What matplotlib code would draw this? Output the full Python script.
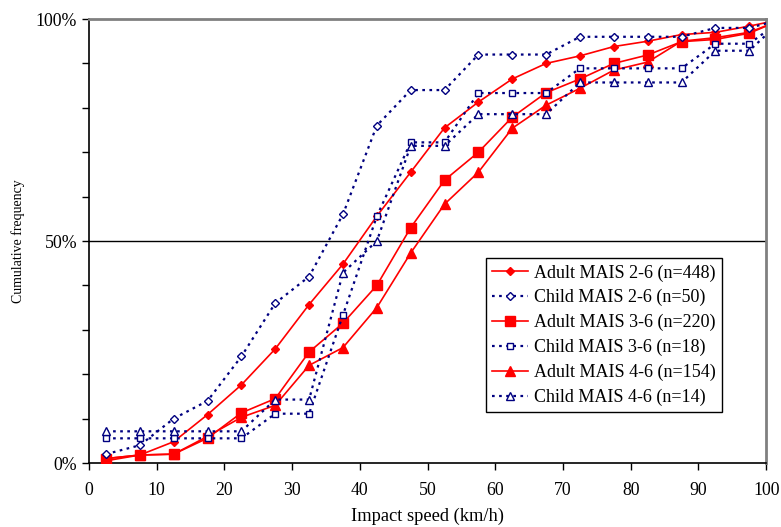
import matplotlib
matplotlib.use("Agg")
import matplotlib.pyplot as plt
from matplotlib.ticker import FixedLocator, FuncFormatter

plt.rcParams['font.family'] = ['Liberation Serif', 'DejaVu Serif']

speed = [2.5, 7.5, 12.5, 17.5, 22.5, 27.5, 32.5, 37.5, 42.5, 47.5,
         52.5, 57.5, 62.5, 67.5, 72.5, 77.5, 82.5, 87.5, 92.5, 97.5, 102.5]

adult_2_6 = [1.0, 1.8, 4.8, 10.9, 17.6, 25.7, 35.7, 44.8, 55.6, 65.5,
             75.5, 81.3, 86.5, 90.0, 91.7, 93.8, 95.0, 96.5, 97.0, 98.4, 100]
child_2_6 = [2, 4, 10, 14, 24, 36, 42, 56, 76, 84,
             84, 92, 92, 92, 96, 96, 96, 96, 98, 98, 100]
adult_3_6 = [1.0, 1.8, 2.0, 5.6, 11.3, 14.5, 25.0, 31.5, 40.0, 53.0,
             63.7, 70.0, 77.9, 83.4, 86.5, 90.0, 91.9, 94.9, 95.4, 96.8, 100]
child_3_6 = [5.56, 5.56, 5.56, 5.56, 5.56, 11.11, 11.11, 33.33, 55.56, 72.22,
             72.22, 83.33, 83.33, 83.33, 88.89, 88.89, 88.89, 88.89, 94.44, 94.44, 100]
adult_4_6 = [0.5, 1.8, 2.0, 6.0, 10.3, 13.0, 22.0, 26.0, 35.0, 47.3,
             58.3, 65.5, 75.4, 80.6, 84.4, 88.5, 90.3, 95.0, 95.8, 97.0, 100]
child_4_6 = [7.14, 7.14, 7.14, 7.14, 7.14, 14.29, 14.29, 42.86, 50.0, 71.43,
             71.43, 78.57, 78.57, 78.57, 85.71, 85.71, 85.71, 85.71, 92.86, 92.86, 100]

labels = ["Adult MAIS 2-6 (n=448)", "Child MAIS 2-6 (n=50)",
          "Adult MAIS 3-6 (n=220)", "Child MAIS 3-6 (n=18)",
          "Adult MAIS 4-6 (n=154)", "Child MAIS 4-6 (n=14)"]

x_ticks = list(range(0, 101, 10))
y_major = [0, 50, 100]
y_minor = list(range(0, 101, 10))

red = '#FF0000'
navy = '#000080'

fig = plt.figure(figsize=(7.81, 5.27), dpi=100)
ax = fig.add_axes([0.114, 0.1214, 0.867, 0.8425])

ax.axhline(50, color='black', lw=1.0, zorder=1)

adult_kw = dict(color=red, lw=1.2, linestyle='-', zorder=3)
child_kw = dict(color=navy, lw=1.6, linestyle=(0, (1.2, 2.0)), zorder=4,
                markerfacecolor='white', markeredgecolor=navy, markeredgewidth=1.0)

ax.plot(speed, adult_2_6, marker='D', ms=4.5, markerfacecolor=red, markeredgecolor=red, label=labels[0], **adult_kw)
ax.plot(speed, child_2_6, marker='D', ms=4.2, label=labels[1], **child_kw)
ax.plot(speed, adult_3_6, marker='s', ms=6.5, markerfacecolor=red, markeredgecolor=red, label=labels[2], **adult_kw)
ax.plot(speed, child_3_6, marker='s', ms=5, label=labels[3], **child_kw)
ax.plot(speed, adult_4_6, marker='^', ms=6.5, markerfacecolor=red, markeredgecolor=red, label=labels[4], **adult_kw)
ax.plot(speed, child_4_6, marker='^', ms=5.5, label=labels[5], **child_kw)

ax.set_xlim(0, 100)
ax.set_ylim(0, 100)
ax.set_xticks(x_ticks)
ax.set_xticklabels([str(t) for t in x_ticks])
ax.yaxis.set_major_locator(FixedLocator(y_major))
ax.yaxis.set_minor_locator(FixedLocator(y_minor))
ax.yaxis.set_major_formatter(FuncFormatter(lambda v, p: f"{int(v)}%"))

ax.tick_params(axis='both', which='both', direction='out', length=5, width=1, labelsize=12.8, colors='black')
ax.tick_params(axis='y', which='minor', length=5)
ax.tick_params(axis='x', pad=9)

for s in ['left', 'bottom']:
    ax.spines[s].set_color('black')
    ax.spines[s].set_linewidth(1.2)
for s in ['top', 'right']:
    ax.spines[s].set_color('#808080')
    ax.spines[s].set_linewidth(2.0)

ax.set_xlabel("Impact speed (km/h)", fontsize=13.3, labelpad=6)
ax.set_ylabel("Cumulative frequency", fontsize=10)
ax.yaxis.set_label_coords(-0.094, 0.5)

leg = ax.legend(loc='upper left', bbox_to_anchor=(0.586, 0.462), fontsize=13,
                frameon=True, fancybox=False, framealpha=1, edgecolor='black',
                handlelength=2.0, handletextpad=0.3, labelspacing=0.42,
                borderpad=0.35, borderaxespad=0)
leg.get_frame().set_linewidth(1.0)
leg.set_zorder(10)

fig.savefig("out.png", dpi=100)
